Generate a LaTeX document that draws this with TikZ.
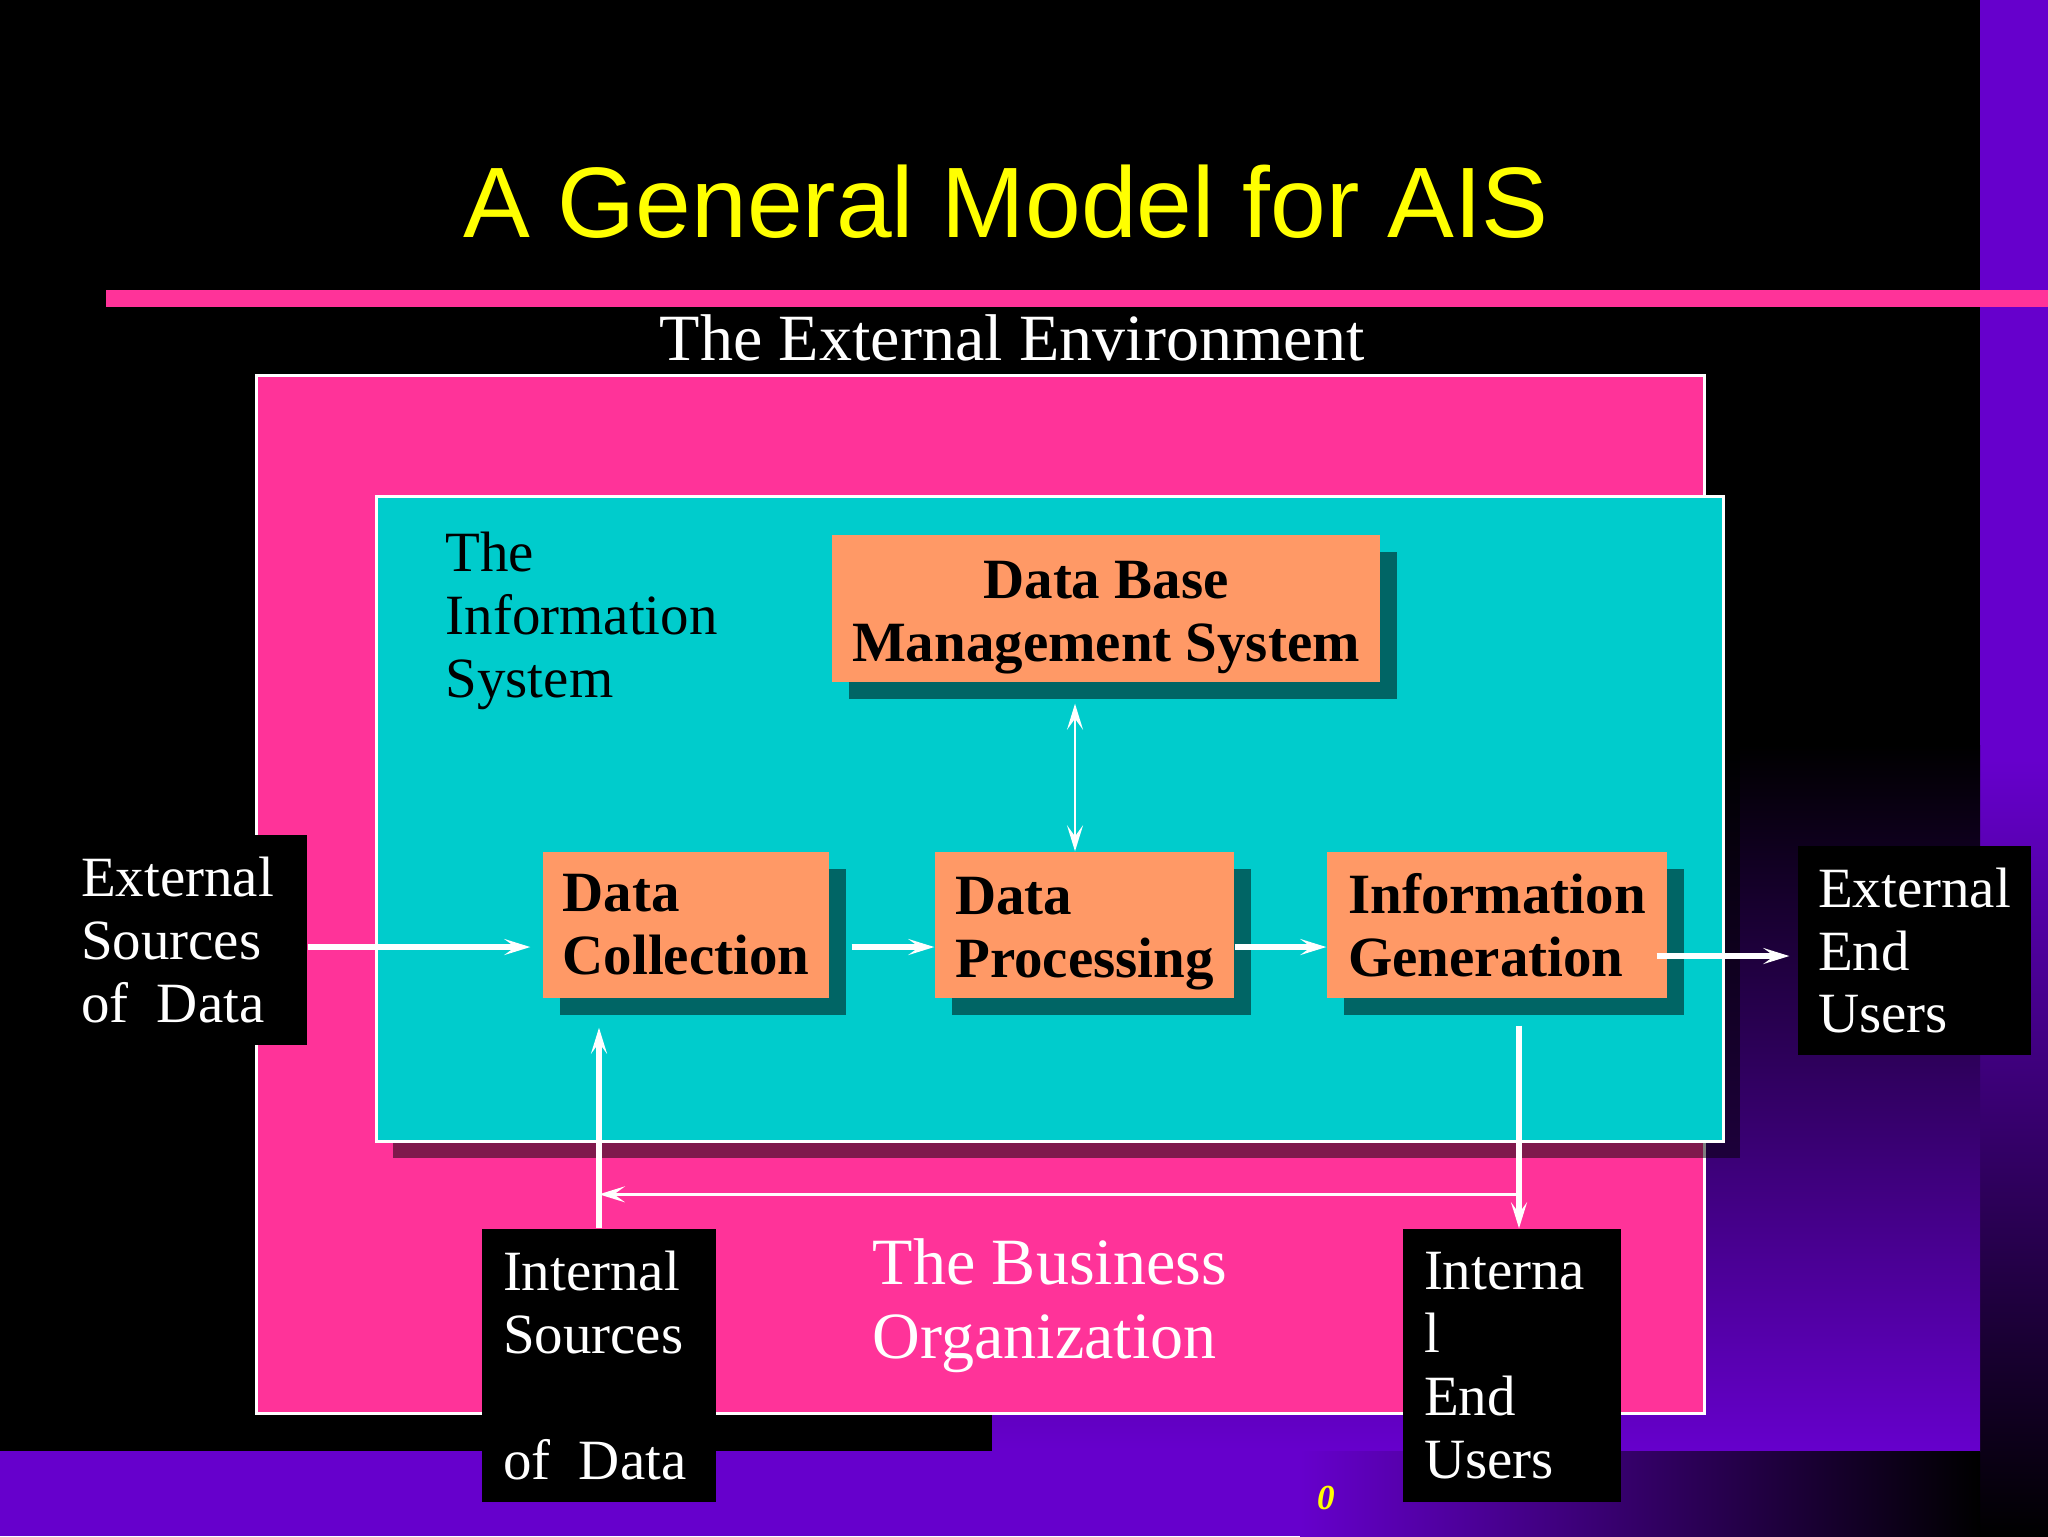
\documentclass[tikz,border=0pt]{standalone}
\usepackage{fontspec}
\setmainfont{Liberation Serif}
\newfontfamily\titlefont{Liberation Sans}
\usetikzlibrary{arrows.meta,shadows}
\definecolor{SlidePink}{HTML}{FF3399}
\definecolor{SlideCyan}{HTML}{00CCCC}
\definecolor{SlideOrange}{HTML}{FF9966}
\definecolor{SlidePurple}{HTML}{6600CC}
\definecolor{SlideYellow}{HTML}{FFFF00}

\begin{document}
\begin{tikzpicture}[x=0.1mm, y=-0.1mm,
    >={Stealth[length=2.6mm,width=1.6mm,inset=1.1mm]},
    boxshadow/.style={drop shadow={shadow xshift=1.7mm,shadow yshift=-1.7mm,
      fill=black,opacity=0.5}},
    procbox/.style={fill=SlideOrange, inner sep=0pt, align=left, boxshadow,
      font=\bfseries\fontsize{16.2}{17.9}\selectfont},
    labelbox/.style={fill=black, text=white, inner sep=0pt, align=left,
      font=\fontsize{16.2}{17.9}\selectfont},
    flow/.style={->, white, line width=0.55mm},
    link/.style={<->, white, line width=0.25mm}]
    \fill[black] (0,0) rectangle (2048,1536);
    \fill[SlidePurple] (1980,0) rectangle (2048,760);
    \shade[top color=SlidePurple, bottom color=black] (1980,760) rectangle (2048,1536);
    \shade[top color=black, bottom color=SlidePurple] (992,745) rectangle (1980,1451);
    \fill[SlidePurple] (0,1451) rectangle (1300,1536);
    \shade[left color=SlidePurple, right color=black] (1300,1451) rectangle (1980,1536);
    \fill[SlidePink] (106,290) rectangle (2048,307);
    \node[SlideYellow, font=\titlefont\fontsize{28.5}{34}\selectfont] (title)
      at (1006,202) {A General Model for AIS};
    \node[white, inner sep=0pt, font=\fontsize{18.8}{21.1}\selectfont] (envlabel)
      at (1012,338) {The External Environment};
    \draw[white, line width=0.3mm, fill=SlidePink] (256,375) rectangle (1704,1413);
    \draw[white, line width=0.3mm, fill=SlideCyan, boxshadow] (376,496) rectangle (1723,1141);
    \node[anchor=west, align=left, inner sep=0pt, font=\fontsize{16.2}{17.9}\selectfont]
      (islabel) at (445,621) {The\\Information\\System};
    \node[white, anchor=west, align=left, inner sep=0pt, font=\fontsize{18.8}{21.1}\selectfont]
      (orglabel) at (872,1306) {The Business\\Organization};
    \node[procbox, align=center, minimum width=54.8mm, minimum height=14.7mm] (dbms)
      at (1106,608.5) {\rule{0pt}{5.5mm}Data Base\\Management System};
    \node[procbox, minimum width=28.6mm, minimum height=14.6mm] (dc)
      at (686,925) {Data\\Collection};
    \node[procbox, minimum width=29.9mm, minimum height=14.6mm] (dp)
      at (1084.5,925) {\rule{0pt}{5.5mm}Data\\Processing};
    \node[procbox, minimum width=34mm, minimum height=14.6mm] (ig)
      at (1497,925) {Information\\Generation};
    \node[labelbox, minimum width=25.9mm, minimum height=21mm] (extsrc)
      at (177.5,940) {External\\Sources\\of\ \ Data};
    \node[labelbox, inner xsep=2.1mm, text width=19.2mm, minimum height=27.3mm] (intsrc)
      at (599,1365.5) {Internal\\Sources\\\mbox{}\\of\kern0.5em Data};
    \node[labelbox, inner xsep=2.1mm, text width=17.6mm, minimum height=27.3mm] (intusers)
      at (1512,1365.5) {Interna\\l\\End\\Users};
    \node[labelbox, minimum width=23.3mm, minimum height=20.9mm] (extusers)
      at (1914.5,950.5) {External\\End\\Users};
    \node[SlideYellow, font=\bfseries\itshape\fontsize{10}{12}\selectfont] (pagenum)
      at (1326,1498) {0};
    \draw[flow] ([yshift=-0.7mm]extsrc.east) -- ([xshift=-1.2mm,yshift=-0.7mm]extsrc.east -| dc.west);
    \draw[flow] ([xshift=2.2mm,yshift=-2.2mm]dc.east) -- ([yshift=-2.2mm]dc.east -| dp.west);
    \draw[flow] ([yshift=-2.2mm]dp.east) -- ([yshift=-2.2mm]dp.east -| ig.west);
    \draw[flow] ([xshift=-1.1mm,yshift=-3.1mm]ig.east)
      -- ([xshift=-0.8mm,yshift=-3.1mm]ig.east -| extusers.west);
    \draw[link] ([xshift=-0.95mm]dp.north) -- ([xshift=-0.95mm,yshift=-2.1mm]dp.north |- dbms.south);
    \draw[flow] (intsrc.north) -- ([yshift=-2.9mm]intsrc.north |- dc.south);
    \draw[flow] ([xshift=0.7mm,yshift=-2.7mm]intusers.north |- ig.south) -- ([xshift=0.7mm]intusers.north);
    \draw[->, white, line width=0.3mm] ([xshift=0.7mm,yshift=3.4mm]intusers.north)
      -- ([yshift=3.4mm]intusers.north -| intsrc.north);
  \end{tikzpicture}
\end{document}
